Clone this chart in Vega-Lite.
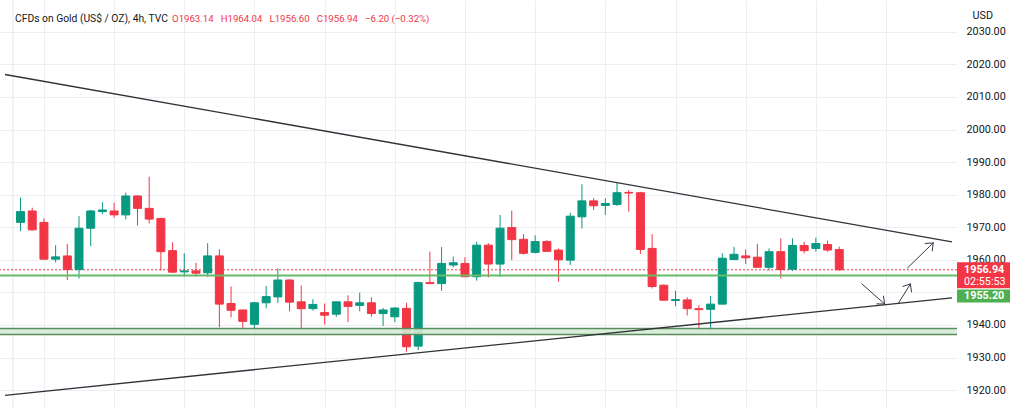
{
  "$schema": "https://vega.github.io/schema/vega-lite/v6.json",
  "width": 957,
  "height": 408,
  "autosize": {"type": "none"},
  "padding": {"left": 0, "top": 0, "right": 67, "bottom": 0},
  "background": "#ffffff",
  "config": {"view": {"stroke": null}, "font": "Roboto"},
  "title": {
    "text": "CFDs on Gold (US$ / OZ), 4h, TVC",
    "subtitle": "\u200b\u00a0\u00a0\u00a0\u00a0\u00a0\u00a0\u00a0\u00a0\u00a0\u00a0\u00a0\u00a0\u00a0\u00a0\u00a0\u00a0\u00a0\u00a0\u00a0\u00a0\u00a0\u00a0\u00a0\u00a0\u00a0\u00a0\u00a0\u00a0\u00a0\u00a0\u00a0\u00a0\u00a0\u00a0\u00a0\u00a0\u00a0\u00a0\u00a0\u00a0\u00a0\u00a0\u00a0\u00a0\u00a0\u00a0\u00a0\u00a0\u00a0\u00a0\u00a0\u00a0\u00a0\u00a0\u00a0\u00a0\u00a0\u00a0\u00a0\u00a0\u00a0\u00a0\u00a0\u00a0\u00a0\u00a0O1963.14\u00a0\u00a0\u00a0H1964.04\u00a0\u00a0\u00a0L1956.60\u00a0\u00a0\u00a0C1956.94\u00a0\u00a0\u00a0\u22126.20\u00a0(\u22120.32%)",
    "anchor": "start",
    "frame": "group",
    "offset": -25,
    "dx": 15,
    "font": "Roboto",
    "fontSize": 10.3,
    "fontWeight": "normal",
    "color": "#131722",
    "subtitleFont": "Roboto",
    "subtitleFontSize": 9.6,
    "subtitleColor": "#F23645",
    "subtitlePadding": -10.5
  },
  "datasets": {
    "candles": [
      {"i": 0, "o": 1971.5, "h": 1979.1, "l": 1968.8, "c": 1974.8},
      {"i": 1, "o": 1975.0, "h": 1976.0, "l": 1969.0, "c": 1969.2},
      {"i": 2, "o": 1971.5, "h": 1972.7, "l": 1960.0, "c": 1960.2},
      {"i": 3, "o": 1960.2, "h": 1964.5, "l": 1959.2, "c": 1960.9},
      {"i": 4, "o": 1961.2, "h": 1964.9, "l": 1953.8, "c": 1957.0},
      {"i": 5, "o": 1957.0, "h": 1973.4, "l": 1954.3, "c": 1969.7},
      {"i": 6, "o": 1969.7, "h": 1975.3, "l": 1964.2, "c": 1975.0},
      {"i": 7, "o": 1974.8, "h": 1977.7, "l": 1974.0, "c": 1975.3},
      {"i": 8, "o": 1975.0, "h": 1977.5, "l": 1972.9, "c": 1973.8},
      {"i": 9, "o": 1973.8, "h": 1980.6, "l": 1972.4, "c": 1979.6},
      {"i": 10, "o": 1979.6, "h": 1979.9, "l": 1970.5, "c": 1975.8},
      {"i": 11, "o": 1975.8, "h": 1985.5, "l": 1971.2, "c": 1972.5},
      {"i": 12, "o": 1972.7, "h": 1972.9, "l": 1956.7, "c": 1962.5},
      {"i": 13, "o": 1962.8, "h": 1965.4, "l": 1956.1, "c": 1956.2},
      {"i": 14, "o": 1956.3, "h": 1962.0, "l": 1954.8, "c": 1956.6},
      {"i": 15, "o": 1956.6, "h": 1959.1, "l": 1954.8, "c": 1955.9},
      {"i": 16, "o": 1956.0, "h": 1965.1, "l": 1954.8, "c": 1961.2},
      {"i": 17, "o": 1961.2, "h": 1963.2, "l": 1939.3, "c": 1946.4},
      {"i": 18, "o": 1946.6, "h": 1951.8, "l": 1942.3, "c": 1944.5},
      {"i": 19, "o": 1944.6, "h": 1944.7, "l": 1938.8, "c": 1941.1},
      {"i": 20, "o": 1940.2, "h": 1947.1, "l": 1937.2, "c": 1946.8},
      {"i": 21, "o": 1946.8, "h": 1952.0, "l": 1945.1, "c": 1948.7},
      {"i": 22, "o": 1948.6, "h": 1957.4, "l": 1946.8, "c": 1953.8},
      {"i": 23, "o": 1953.8, "h": 1954.0, "l": 1944.2, "c": 1947.0},
      {"i": 24, "o": 1947.1, "h": 1952.1, "l": 1938.9, "c": 1945.0},
      {"i": 25, "o": 1945.0, "h": 1947.9, "l": 1944.4, "c": 1946.3},
      {"i": 26, "o": 1943.8, "h": 1946.6, "l": 1940.1, "c": 1943.0},
      {"i": 27, "o": 1943.3, "h": 1947.2, "l": 1942.5, "c": 1947.1},
      {"i": 28, "o": 1947.1, "h": 1949.1, "l": 1940.9, "c": 1945.7},
      {"i": 29, "o": 1946.0, "h": 1949.9, "l": 1944.2, "c": 1946.8},
      {"i": 30, "o": 1946.8, "h": 1948.5, "l": 1942.5, "c": 1943.5},
      {"i": 31, "o": 1943.5, "h": 1945.2, "l": 1939.7, "c": 1944.6},
      {"i": 32, "o": 1942.5, "h": 1945.4, "l": 1940.9, "c": 1945.2},
      {"i": 33, "o": 1945.1, "h": 1946.8, "l": 1931.8, "c": 1933.3},
      {"i": 34, "o": 1933.5, "h": 1953.3, "l": 1932.3, "c": 1953.0},
      {"i": 35, "o": 1953.0, "h": 1962.5, "l": 1952.6, "c": 1952.7},
      {"i": 36, "o": 1952.7, "h": 1963.9, "l": 1950.5, "c": 1958.9},
      {"i": 37, "o": 1958.4, "h": 1961.0, "l": 1957.7, "c": 1959.1},
      {"i": 38, "o": 1958.9, "h": 1960.8, "l": 1954.7, "c": 1954.8},
      {"i": 39, "o": 1954.8, "h": 1965.6, "l": 1953.6, "c": 1964.5},
      {"i": 40, "o": 1964.5, "h": 1965.1, "l": 1954.6, "c": 1958.7},
      {"i": 41, "o": 1958.7, "h": 1973.8, "l": 1954.8, "c": 1969.7},
      {"i": 42, "o": 1969.9, "h": 1975.1, "l": 1959.9, "c": 1966.2},
      {"i": 43, "o": 1966.3, "h": 1967.9, "l": 1961.6, "c": 1962.0},
      {"i": 44, "o": 1962.3, "h": 1967.5, "l": 1962.0, "c": 1965.6},
      {"i": 45, "o": 1965.6, "h": 1966.1, "l": 1962.5, "c": 1962.6},
      {"i": 46, "o": 1963.0, "h": 1963.5, "l": 1953.3, "c": 1960.0},
      {"i": 47, "o": 1959.9, "h": 1974.5, "l": 1958.4, "c": 1973.4},
      {"i": 48, "o": 1973.2, "h": 1983.2, "l": 1969.6, "c": 1978.1},
      {"i": 49, "o": 1978.1, "h": 1978.9, "l": 1975.3, "c": 1976.6},
      {"i": 50, "o": 1976.7, "h": 1978.9, "l": 1973.8, "c": 1977.3},
      {"i": 51, "o": 1977.0, "h": 1983.7, "l": 1976.5, "c": 1980.6},
      {"i": 52, "o": 1980.7, "h": 1981.4, "l": 1974.8, "c": 1980.5},
      {"i": 53, "o": 1980.6, "h": 1980.9, "l": 1961.8, "c": 1963.2},
      {"i": 54, "o": 1963.5, "h": 1967.9, "l": 1951.2, "c": 1951.8},
      {"i": 55, "o": 1952.2, "h": 1952.5, "l": 1947.5, "c": 1947.6},
      {"i": 56, "o": 1947.5, "h": 1950.5, "l": 1945.8, "c": 1947.8},
      {"i": 57, "o": 1947.7, "h": 1948.5, "l": 1942.9, "c": 1945.0},
      {"i": 58, "o": 1945.0, "h": 1946.1, "l": 1937.9, "c": 1944.7},
      {"i": 59, "o": 1944.8, "h": 1948.9, "l": 1938.0, "c": 1946.4},
      {"i": 60, "o": 1946.4, "h": 1962.0, "l": 1946.3, "c": 1960.5},
      {"i": 61, "o": 1960.1, "h": 1964.0, "l": 1959.9, "c": 1961.7},
      {"i": 62, "o": 1961.2, "h": 1963.2, "l": 1958.7, "c": 1960.6},
      {"i": 63, "o": 1960.8, "h": 1964.9, "l": 1957.6, "c": 1957.7},
      {"i": 64, "o": 1957.7, "h": 1963.5, "l": 1956.7, "c": 1962.5},
      {"i": 65, "o": 1962.5, "h": 1966.6, "l": 1954.3, "c": 1957.0},
      {"i": 66, "o": 1957.1, "h": 1966.6, "l": 1956.5, "c": 1964.4},
      {"i": 67, "o": 1964.4, "h": 1965.5, "l": 1962.0, "c": 1962.8},
      {"i": 68, "o": 1963.5, "h": 1966.8, "l": 1962.5, "c": 1965.0},
      {"i": 69, "o": 1964.7, "h": 1965.9, "l": 1962.5, "c": 1963.0},
      {"i": 70, "o": 1963.14, "h": 1964.04, "l": 1956.60, "c": 1956.94}
    ],
    "trend": [
      {"x1": -1.328, "y1": 2016.9, "x2": 79.64, "y2": 1965.5},
      {"x1": -1.328, "y1": 1918.4, "x2": 79.64, "y2": 1948.3}
    ],
    "arrows": [
      {"x1": 71.94, "y1": 1952.58, "x2": 73.88, "y2": 1946.44},
      {"x1": 73.88, "y1": 1946.44, "x2": 73.78, "y2": 1948.86},
      {"x1": 73.88, "y1": 1946.44, "x2": 73.21, "y2": 1946.47},
      {"x1": 75.07, "y1": 1946.74, "x2": 76.08, "y2": 1952.58},
      {"x1": 76.08, "y1": 1952.58, "x2": 75.44, "y2": 1951.84},
      {"x1": 76.08, "y1": 1952.58, "x2": 76.18, "y2": 1950.15},
      {"x1": 75.83, "y1": 1957.50, "x2": 78.03, "y2": 1965.18},
      {"x1": 78.03, "y1": 1965.18, "x2": 77.35, "y2": 1965.02},
      {"x1": 78.03, "y1": 1965.18, "x2": 77.95, "y2": 1962.72}
    ],
    "hlines": [
      {"v": 1956.94, "kind": "last"},
      {"v": 1937.1, "kind": "zone"},
      {"v": 1938.9, "kind": "zone"},
      {"v": 1955.2, "kind": "level"}
    ]
  },
  "layer": [
    {
      "data": {"name": "candles"},
      "mark": {"type": "rule", "strokeWidth": 1},
      "encoding": {
        "x": {
          "field": "i", "type": "quantitative",
          "scale": {"domain": [-1.328, 79.64], "nice": false, "zero": false},
          "axis": {"orient": "bottom", "values": [2, 8, 14, 20, 26, 32, 38, 44, 50, 56, 62, 68, 74], "tickCount": 13, "labels": false, "ticks": false, "domain": false, "grid": true, "gridColor": "#eceef3", "gridWidth": 1, "title": null}
        },
        "y": {
          "field": "l", "type": "quantitative",
          "scale": {"domain": [1914.5, 2039.78], "nice": false, "zero": false},
          "axis": {
            "orient": "right",
            "values": [1920, 1930, 1940, 1950, 1960, 1970, 1980, 1990, 2000, 2010, 2020, 2030],
            "tickCount": 13,
            "grid": true, "gridColor": "#eceef3", "gridWidth": 1,
            "ticks": false, "domain": false,
            "labelOverlap": false,
            "labelExpr": "datum.value == 1950 ? '' : format(datum.value, '.2f')",
            "labelColor": "#131722", "labelFont": "Roboto", "labelFontSize": 10.8, "labelPadding": 9, "labelBaseline": "middle", "labelAlign": "left",
            "title": "USD", "titleAngle": 0, "titleX": 15, "titleY": 15, "titleAlign": "left", "titleBaseline": "middle",
            "titleFont": "Roboto", "titleFontSize": 10.8, "titleFontWeight": "normal", "titleColor": "#131722"
          }
        },
        "y2": {"field": "h"},
        "color": {"condition": {"test": "datum.c >= datum.o", "value": "#089981"}, "value": "#F23645"}
      }
    },
    {
      "data": {"values": [{"v": -0.65}]},
      "mark": {"type": "rule", "color": "#e6e8ee", "strokeWidth": 1},
      "encoding": {
        "x": {
          "field": "v", "type": "quantitative",
          "axis": {"orient": "bottom", "values": [2, 8, 14, 20, 26, 32, 38, 44, 50, 56, 62, 68, 74], "tickCount": 13, "labels": false, "ticks": false, "domain": false, "grid": true, "gridColor": "#eceef3", "gridWidth": 1, "title": null}
        }
      }
    },
    {
      "data": {"name": "hlines"},
      "transform": [{"filter": "datum.kind == 'last'"}],
      "mark": {"type": "rule", "color": "#F23645", "strokeWidth": 1, "strokeDash": [2, 2]},
      "encoding": {
        "y": {"field": "v", "type": "quantitative", "title": "USD"}
      }
    },
    {
      "data": {"name": "candles"},
      "mark": {"type": "bar", "size": 8, "strokeWidth": 1},
      "encoding": {
        "x": {"field": "i", "type": "quantitative", "title": null},
        "y": {"field": "o", "type": "quantitative", "title": "USD"},
        "y2": {"field": "c"},
        "fill": {"condition": {"test": "datum.c >= datum.o", "value": "#089981"}, "value": "#F23645"},
        "stroke": {"condition": {"test": "datum.c >= datum.o", "value": "#089981"}, "value": "#F23645"}
      }
    },
    {
      "data": {"values": [{"lo": 1937.1, "hi": 1938.9}]},
      "mark": {"type": "rect", "fill": "#d5ecd6", "opacity": 0.9},
      "encoding": {
        "y": {"field": "lo", "type": "quantitative", "title": "USD"},
        "y2": {"field": "hi"}
      }
    },
    {
      "data": {"name": "hlines"},
      "transform": [{"filter": "datum.kind != 'last'"}],
      "mark": {"type": "rule"},
      "encoding": {
        "y": {"field": "v", "type": "quantitative", "title": "USD"},
        "color": {"condition": {"test": "datum.kind == 'zone'", "value": "#5b8a5c"}, "value": "#66bb6a"},
        "strokeWidth": {"condition": {"test": "datum.kind == 'zone'", "value": 1.5}, "value": 2}
      }
    },
    {
      "data": {"name": "trend"},
      "mark": {"type": "rule", "color": "#2f3237", "strokeWidth": 1.3},
      "encoding": {
        "x": {"field": "x1", "type": "quantitative", "title": null},
        "y": {"field": "y1", "type": "quantitative", "title": "USD"},
        "x2": {"field": "x2"},
        "y2": {"field": "y2"}
      }
    },
    {
      "data": {"name": "arrows"},
      "mark": {"type": "rule", "color": "#363a45", "strokeWidth": 1, "strokeCap": "round"},
      "encoding": {
        "x": {"field": "x1", "type": "quantitative", "title": null},
        "y": {"field": "y1", "type": "quantitative", "title": "USD"},
        "x2": {"field": "x2"},
        "y2": {"field": "y2"}
      }
    },
    {
      "data": {"values": [{"p": 1956.94}]},
      "mark": {"type": "point", "shape": "M0,-0.28H2V0.70H0Z", "size": 2809, "filled": true, "fill": "#F23645", "opacity": 1, "strokeWidth": 0, "clip": false},
      "encoding": {
        "x": {"value": "width"},
        "y": {"field": "p", "type": "quantitative", "title": "USD"}
      }
    },
    {
      "data": {"values": [{"p": 1955.2}]},
      "mark": {"type": "point", "shape": "M0,0.53H2V1.02H0Z", "size": 2809, "filled": true, "fill": "#4caf50", "opacity": 1, "strokeWidth": 0, "clip": false},
      "encoding": {
        "x": {"value": "width"},
        "y": {"field": "p", "type": "quantitative", "title": "USD"}
      }
    },
    {
      "data": {"values": [{"p": 1956.94, "t": "1956.94"}]},
      "mark": {"type": "text", "align": "left", "baseline": "middle", "dx": 7, "color": "#ffffff", "font": "Roboto", "fontSize": 10.8, "fontWeight": "bold", "clip": false},
      "encoding": {
        "x": {"value": "width"},
        "y": {"field": "p", "type": "quantitative", "title": "USD"},
        "text": {"field": "t"}
      }
    },
    {
      "data": {"values": [{"p": 1956.94, "t": "02:55:53"}]},
      "mark": {"type": "text", "align": "left", "baseline": "middle", "dx": 7, "dy": 12, "color": "#ffffff", "font": "Roboto", "fontSize": 10.8, "clip": false},
      "encoding": {
        "x": {"value": "width"},
        "y": {"field": "p", "type": "quantitative", "title": "USD"},
        "text": {"field": "t"}
      }
    },
    {
      "data": {"values": [{"p": 1955.2, "t": "1955.20"}]},
      "mark": {"type": "text", "align": "left", "baseline": "middle", "dx": 7, "dy": 20.5, "color": "#ffffff", "font": "Roboto", "fontSize": 10.8, "fontWeight": "bold", "clip": false},
      "encoding": {
        "x": {"value": "width"},
        "y": {"field": "p", "type": "quantitative", "title": "USD"},
        "text": {"field": "t"}
      }
    }
  ]
}
